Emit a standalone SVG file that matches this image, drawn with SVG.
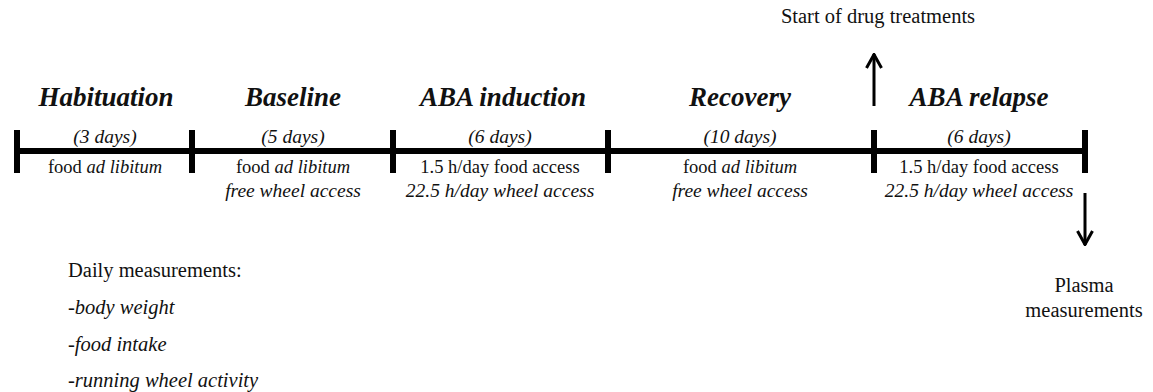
<svg xmlns="http://www.w3.org/2000/svg" width="1153" height="392" viewBox="0 0 1153 392">
<style>
text{font-family:"Liberation Serif","Times New Roman",serif;fill:#111;}
.t{font-size:27px;font-weight:bold;font-style:italic;text-anchor:middle;}
.d{font-size:19.5px;font-style:italic;text-anchor:middle;}
.c{font-size:18.5px;text-anchor:middle;}
.ci{font-size:19.5px;font-style:italic;text-anchor:middle;}
.i{font-style:italic;}
.m{font-size:20.5px;}
.bar{stroke:#000;stroke-width:6;fill:none;}
.arr{stroke:#000;stroke-width:3;fill:none;}
</style>
<defs>
<marker id="ah" viewBox="0 0 16 18" refX="15" refY="9" markerWidth="16" markerHeight="18" markerUnits="userSpaceOnUse" orient="auto">
<polyline points="1,1.5 14.5,9 1,16.5" fill="none" stroke="#000" stroke-width="3"/>
</marker>
</defs>
<g id="connectors">
<line class="bar" x1="14" y1="151" x2="1088" y2="151"/>
<line class="bar" x1="17" y1="130" x2="17" y2="173"/>
<line class="bar" x1="192" y1="130" x2="192" y2="173"/>
<line class="bar" x1="393" y1="130" x2="393" y2="173"/>
<line class="bar" x1="608" y1="130" x2="608" y2="173"/>
<line class="bar" x1="874" y1="130" x2="874" y2="173"/>
<line class="bar" x1="1085" y1="130" x2="1085" y2="173"/>
<line class="arr" x1="874" y1="106" x2="874" y2="54" marker-end="url(#ah)"/>
<line class="arr" x1="1085" y1="193" x2="1085" y2="245" marker-end="url(#ah)"/>
</g>
<g id="habituation">
<text class="t" x="106" y="106">Habituation</text>
<text class="d" x="105" y="143">(3 days)</text>
<text class="c" x="105" y="173">food <tspan class="i">ad libitum</tspan></text>
</g>
<g id="baseline">
<text class="t" x="293" y="106">Baseline</text>
<text class="d" x="293" y="143">(5 days)</text>
<text class="c" x="293" y="173">food <tspan class="i">ad libitum</tspan></text>
<text class="ci" x="293" y="197">free wheel access</text>
</g>
<g id="aba-induction">
<text class="t" x="503" y="106">ABA induction</text>
<text class="d" x="500" y="143">(6 days)</text>
<text class="c" x="500" y="173">1.5 h/day food access</text>
<text class="ci" x="500" y="197">22.5 h/day wheel access</text>
</g>
<g id="recovery">
<text class="t" x="740" y="106">Recovery</text>
<text class="d" x="740" y="143">(10 days)</text>
<text class="c" x="740" y="173">food <tspan class="i">ad libitum</tspan></text>
<text class="ci" x="740" y="197">free wheel access</text>
</g>
<g id="aba-relapse">
<text class="t" x="979" y="106">ABA relapse</text>
<text class="d" x="979" y="143">(6 days)</text>
<text class="c" x="979" y="173">1.5 h/day food access</text>
<text class="ci" x="979" y="197">22.5 h/day wheel access</text>
</g>
<g id="drug-start">
<text class="m" x="878" y="23" text-anchor="middle">Start of drug treatments</text>
</g>
<g id="plasma">
<text class="m" x="1084" y="292" text-anchor="middle">Plasma</text>
<text class="m" x="1084" y="317" text-anchor="middle">measurements</text>
</g>
<g id="daily">
<text class="m" x="68" y="277">Daily measurements:</text>
<text class="m i" x="68" y="314">-body weight</text>
<text class="m i" x="68" y="351">-food intake</text>
<text class="m i" x="68" y="387">-running wheel activity</text>
</g>
</svg>
